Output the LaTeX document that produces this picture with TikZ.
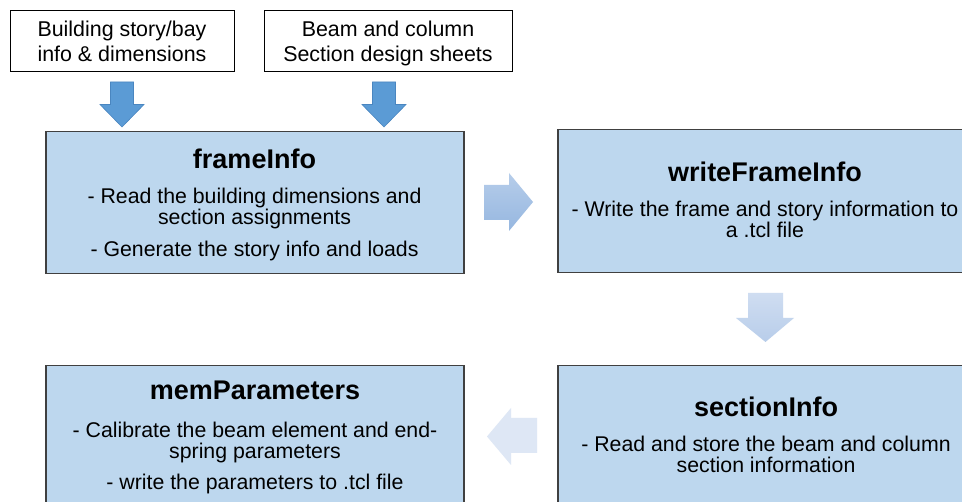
\documentclass[tikz,border=0pt]{standalone}
\usepackage{fontspec}
\setmainfont{Liberation Sans}
\definecolor{boxfill}{HTML}{BDD7EE}
\definecolor{boxline}{HTML}{404040}
\definecolor{arrowblue}{HTML}{5B9BD5}
\definecolor{arrowline}{HTML}{4A86C0}
\definecolor{rtop}{HTML}{B6CDEA}
\definecolor{rbot}{HTML}{96B7E0}
\definecolor{dtop}{HTML}{CFDDF1}
\definecolor{dbot}{HTML}{B8CDEA}
\definecolor{lfill}{HTML}{DEE7F5}
\newcommand\ttlfont{\fontsize{27}{30}\selectfont\bfseries}
\newcommand\bdyfont{\fontsize{21.3}{24}\selectfont}
\newcommand\infont{\fontsize{21.4}{24}\selectfont}
\tikzset{
  procbox/.style={draw=boxline, line width=1.5pt, fill=boxfill, rectangle, inner sep=0pt, anchor=north west},
  inbox/.style={draw=black, line width=1pt, fill=white, rectangle, inner sep=0pt, anchor=north west},
  ttl/.style={font=\ttlfont, inner sep=0pt, anchor=base},
  bdy/.style={font=\bdyfont, inner sep=0pt, anchor=base},
  intext/.style={font=\infont, inner sep=0pt, anchor=base},
}
\begin{document}
\begin{tikzpicture}[x=1pt, y=-1pt]
\useasboundingbox (0,0) rectangle (962,502);
\clip (0,0) rectangle (962,502);
\fill[white] (0,0) rectangle (962,502);

% input boxes
\node[inbox, minimum width=224pt, minimum height=61pt] (in1) at (10,10) {};
\node[intext] (in1a) at (122,37) {Building story/bay};
\node[intext] (in1b) at (122,61.5) {info \& dimensions};
\node[inbox, minimum width=248pt, minimum height=61pt] (in2) at (264,10) {};
\node[intext] (in2a) at (388,37) {Beam and column};
\node[intext] (in2b) at (388,61.5) {Section design sheets};

% process boxes
\node[procbox, minimum width=418pt, minimum height=142pt] (frame) at (45,131) {};
\node[procbox, minimum width=418pt, minimum height=143pt] (write) at (557,129) {};
\node[procbox, minimum width=418pt, minimum height=180pt] (section) at (557,365) {};
\node[procbox, minimum width=418pt, minimum height=180pt] (mem) at (45,365) {};

\node[ttl] (frameT) at (254.5,169) {frameInfo};
\node[bdy] (frame1) at (254.5,204) {- Read the building dimensions and};
\node[bdy] (frame2) at (254.5,225) {section assignments};
\node[bdy] (frame3) at (254.5,257) {- Generate the story info and loads};

\node[ttl] (writeT) at (765,182) {writeFrameInfo};
\node[bdy] (write1) at (765,217) {- Write the frame and story information to};
\node[bdy] (write2) at (765,238) {a .tcl file};

\node[ttl] (sectionT) at (766,417) {sectionInfo};
\node[bdy] (section1) at (766,452) {- Read and store the beam and column};
\node[bdy] (section2) at (766,473) {section information};

\node[ttl] (memT) at (255,400) {memParameters};
\node[bdy] (mem1) at (255,438) {- Calibrate the beam element and end-};
\node[bdy] (mem2) at (255,459) {spring parameters};
\node[bdy] (mem3) at (255,490) {- write the parameters to .tcl file};

% block arrows
\filldraw[fill=arrowblue, draw=arrowline, line width=0.6pt]
  (110.5,82) -- (133.5,82) -- (133.5,104.5) -- (144,104.5) -- (122,127) -- (100,104.5) -- (110.5,104.5) -- cycle;
\filldraw[fill=arrowblue, draw=arrowline, line width=0.6pt]
  (372.5,82) -- (395.5,82) -- (395.5,104.5) -- (406,104.5) -- (384,127) -- (362,104.5) -- (372.5,104.5) -- cycle;
\shade[top color=rtop, bottom color=rbot]
  (484,185) -- (509,185) -- (509,173) -- (533,202) -- (509,231) -- (509,220) -- (484,220) -- cycle;
\shade[top color=dtop, bottom color=dbot]
  (748,293) -- (783,293) -- (783,318) -- (794,318) -- (765.5,342) -- (736,318) -- (748,318) -- cycle;
\fill[lfill]
  (537,418) -- (511,418) -- (511,408) -- (487,436.5) -- (511,465) -- (511,453) -- (537,453) -- cycle;
\end{tikzpicture}
\end{document}
